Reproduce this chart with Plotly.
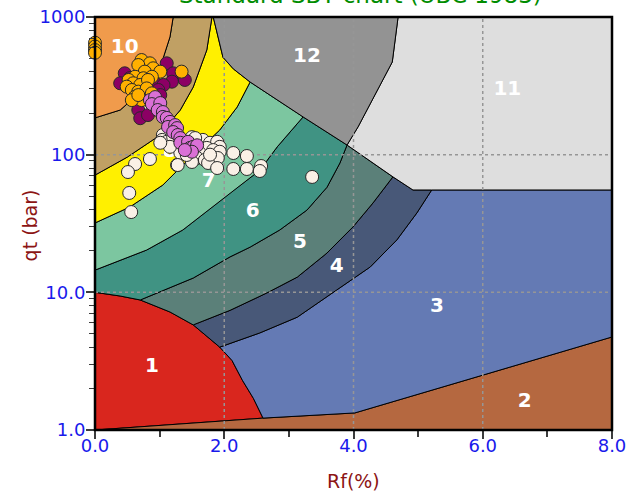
import plotly.graph_objects as go

# ---------------- zone boundaries (Rf %, qt bar) ----------------
B1 = [(0.0, 10.0), (0.39, 9.4), (0.70, 8.8), (1.16, 7.2), (1.52, 5.8),
      (1.93, 4.0), (2.12, 3.2), (2.28, 2.3), (2.45, 1.7), (2.60, 1.22)]
B2 = [(0.0, 1.0), (2.60, 1.22), (4.02, 1.33), (8.0, 4.74)]
B43 = [(1.93, 4.0), (2.55, 5.07), (3.13, 6.6), (3.74, 10.4), (4.26, 15.3),
       (4.67, 24.0), (4.98, 37.7), (5.21, 55.4)]
B54 = [(1.52, 5.8), (2.09, 7.4), (2.66, 9.9), (3.13, 12.9), (3.59, 19.3),
       (3.99, 29.8), (4.30, 44.5), (4.61, 69.0)]
B65 = [(0.70, 8.8), (1.52, 12.7), (2.09, 18.1), (2.40, 21.3), (2.86, 28.4),
       (3.28, 39.6), (3.59, 58.0), (3.79, 87.0), (3.90, 117.5)]
B76 = [(0.0, 14.5), (0.80, 20.3), (1.36, 28.4), (2.09, 52.7), (2.55, 77.0),
       (2.82, 114.0), (3.22, 188.0)]
B87 = [(0.0, 31.9), (0.54, 41.7), (1.05, 60.2), (1.47, 94.6), (1.93, 151.0),
       (2.20, 222.0), (2.40, 337.0)]
B98 = [(0.0, 71.0), (0.50, 96.0), (0.96, 134.0), (1.32, 211.0), (1.52, 310.0),
       (1.73, 576.0), (1.81, 1000.0)]
B109 = [(0.0, 185.0), (0.39, 211.0), (0.74, 295.0), (1.01, 433.0), (1.16, 716.0),
        (1.21, 1000.0)]
G12 = [(1.83, 1000.0), (1.89, 765.0), (1.98, 510.0), (2.14, 420.0), (2.40, 337.0),
       (3.22, 188.0), (3.90, 117.5)]
W11 = [(3.90, 117.5), (4.07, 159.0), (4.60, 471.0), (4.69, 1000.0)]
B11_bottom = [(3.90, 117.5), (4.61, 69.0), (4.92, 55.4), (5.21, 55.4), (8.0, 55.4)]

zone_colors = {
    1: "rgb(217,38,30)", 2: "rgb(181,104,64)", 3: "rgb(100,122,180)",
    4: "rgb(72,88,120)", 5: "rgb(91,128,121)", 6: "rgb(64,147,131)",
    7: "rgb(124,198,160)", 8: "rgb(255,240,0)", 9: "rgb(192,160,100)",
    10: "rgb(240,155,76)", 11: "rgb(222,222,222)", 12: "rgb(147,147,147)",
}

def rev(seq):
    return list(reversed(seq))

zones = {
    1: [B2[0], B2[1]] + rev(B1),
    2: B2 + [(8.0, 1.0)],
    3: B1[5:] + B2[2:] + [(8.0, 55.4)] + rev(B43),
    4: B1[4:6] + B43 + rev(B11_bottom[:4]) + rev(B54),
    5: B1[2:5] + B54 + [B11_bottom[0]] + rev(B65),
    6: B1[0:3] + B65 + rev(G12[5:7]) + rev(B76),
    7: B76 + rev(G12[4:6]) + rev(B87),
    8: B87 + rev(G12[0:5]) + rev(B98),
    9: B98 + rev(B109),
    10: B109 + [(0.0, 1000.0)],
    11: W11 + [(8.0, 1000.0), (8.0, 55.4)] + rev(B11_bottom),
    12: G12 + W11[1:],
}

zone_labels = ["1", "2", "3", "4", "5", "6", "7", "8", "9", "10", "11", "12"]
label_rf = [0.88, 6.65, 5.29, 3.74, 3.17, 2.44, 1.76, 1.16, 0.80, 0.46, 6.38, 3.28]
label_qt = [2.87, 1.6, 7.8, 15.3, 22.8, 38.3, 63.3, 105, 211, 595, 295, 512]

# ---------------- data points ----------------
white_rf = [0.62, 0.85, 0.51, 1.27, 0.53, 0.56, 2.14, 2.35, 2.14, 2.35, 2.57, 2.55, 3.36,
            1.05, 1.04, 1.11, 1.21, 1.50, 1.67, 1.78, 1.89, 1.93, 1.73, 1.62, 1.83, 1.93,
            1.58, 1.70, 1.90, 1.32, 1.28, 1.75, 1.50, 1.50, 1.42, 1.89, 1.16, 1.01, 1.55,
            1.39, 1.78]
white_qt = [85.5, 93.0, 74.8, 84.1, 52.7, 38.3, 102.8, 97.8, 78.7, 78.7, 82.7, 76.1, 68.9,
            139, 128, 124, 134, 134, 128, 122, 124, 114, 112, 103, 108, 105,
            94.6, 91.5, 94.6, 103, 84.1, 87, 88.5, 108, 99.5, 80, 114, 122, 132,
            117, 100]

purple_rf = [1.11, 1.21, 1.39, 1.19, 0.46, 0.39, 0.93, 1.06, 0.98, 0.67, 0.70, 0.82,
             0.88, 0.77, 0.54, 1.01]
purple_qt = [461, 390, 349, 339, 390, 330, 330, 321, 295, 211, 184, 194,
             236, 285, 360, 271]

orange_rf = [0.0, 0.0, 0.0, 0.0, 0.72, 0.85, 0.67, 0.90, 0.77, 1.01, 1.34, 0.62, 0.75,
             0.88, 0.52, 0.59, 0.70, 0.82, 0.49, 0.57, 0.67, 0.80, 0.62, 0.72, 0.57,
             0.67, 0.88]
orange_qt = [650, 610, 575, 550, 487, 461, 448, 424, 401, 401, 401, 368, 359,
             368, 349, 330, 321, 349, 312, 295, 287, 303, 264, 249, 249,
             271, 279]

orchid_rf = [0.85, 0.93, 0.88, 1.01, 0.97, 1.05, 1.05, 1.11, 1.16, 1.13, 1.24, 1.27,
             1.21, 1.28, 1.32, 1.32, 1.44, 1.47, 1.52, 1.58, 1.50, 1.39]
orchid_qt = [249, 262, 233, 237, 211, 204, 188, 185, 173, 159, 164, 156,
             146, 139, 132, 122, 124, 112, 114, 117, 105, 108]

x_ticks = [0, 2, 4, 6, 8]
x_ticktext = ["0.0", "2.0", "4.0", "6.0", "8.0"]
x_minor = [1, 3, 5, 7]
y_ticks = [1, 10, 100, 1000]
y_ticktext = ["1.0", "10.0", "100", "1000"]
y_minor = [2, 3, 4, 5, 6, 7, 8, 9, 20, 30, 40, 50, 60, 70, 80, 90,
           200, 300, 400, 500, 600, 700, 800, 900]
x_grid = [2, 4, 6]
y_grid = [10, 100]

FONT = "DejaVu Sans"

fig = go.Figure()

for z, pts in zones.items():
    fig.add_trace(go.Scatter(
        x=[p[0] for p in pts] + [pts[0][0]],
        y=[p[1] for p in pts] + [pts[0][1]],
        mode="lines", fill="toself", fillcolor=zone_colors[z],
        line=dict(color="black", width=1), hoverinfo="skip", showlegend=False))

grid_style = dict(color="rgb(150,150,150)", width=1.5, dash="dot")
for gx in x_grid:
    fig.add_trace(go.Scatter(x=[gx, gx], y=[y_ticks[0], y_ticks[-1]], mode="lines",
                             line=grid_style, hoverinfo="skip", showlegend=False))
for gy in y_grid:
    fig.add_trace(go.Scatter(x=[x_ticks[0], x_ticks[-1]], y=[gy, gy], mode="lines",
                             line=grid_style, hoverinfo="skip", showlegend=False))

fig.add_trace(go.Scatter(
    x=label_rf, y=label_qt, mode="text", text=zone_labels,
    textfont=dict(family=FONT, size=20, color="white", weight="bold"),
    hoverinfo="skip", showlegend=False))

def add_points(xs, ys, color):
    fig.add_trace(go.Scatter(
        x=xs, y=ys, mode="markers", cliponaxis=False,
        marker=dict(size=13, color=color, line=dict(color="rgb(40,40,40)", width=1)),
        showlegend=False))

add_points(white_rf, white_qt, "rgb(250,240,230)")
add_points(purple_rf, purple_qt, "rgb(140,0,100)")
add_points(orange_rf, orange_qt, "rgb(255,176,0)")
add_points(orchid_rf, orchid_qt, "rgb(218,112,214)")

tick_font = dict(family=FONT, size=18, color="rgb(25,25,235)")

fig.update_layout(
    width=630, height=496,
    margin=dict(l=95, r=18, t=17, b=66, autoexpand=False),
    paper_bgcolor="white", plot_bgcolor="white",
    xaxis=dict(range=[0, 8], tickvals=x_ticks, ticktext=x_ticktext, showgrid=False,
               zeroline=False, ticks="outside", ticklen=8, tickcolor="rgb(60,60,60)",
               tickwidth=1.5, tickfont=tick_font, automargin=False,
               ticklabelstandoff=-9,
               minor=dict(tickvals=x_minor, ticks="outside", ticklen=6,
                          tickcolor="rgb(60,60,60)", tickwidth=1.5)),
    yaxis=dict(type="log", range=[0, 3], tickvals=y_ticks, ticktext=y_ticktext,
               showgrid=False, zeroline=False, ticks="outside", ticklen=8,
               tickcolor="rgb(60,60,60)", tickwidth=1.5, tickfont=tick_font,
               automargin=False, ticklabelstandoff=-3,
               minor=dict(tickvals=y_minor, ticks="outside", ticklen=5,
                          tickcolor="rgb(60,60,60)", tickwidth=1.2)),
    shapes=[dict(type="rect", xref="paper", yref="paper", x0=0, y0=0, x1=1, y1=1,
                 line=dict(color="black", width=2.5), layer="above")],
    annotations=[
        dict(text="Standard SBT chart (UBC 1983)", xref="paper", yref="paper",
             x=0.513, y=1.0, xanchor="center", yanchor="middle", yshift=22,
             showarrow=False,
             font=dict(family=FONT, size=23, color="rgb(0,140,0)")),
        dict(text="qt (bar)", xref="paper", yref="paper", x=-0.126, y=0.495,
             xanchor="center", yanchor="middle", textangle=-90, showarrow=False,
             font=dict(family=FONT, size=19, color="rgb(140,20,20)")),
        dict(text="Rf(%)", xref="paper", yref="paper", x=0.5, y=-0.1235,
             xanchor="center", yanchor="middle", showarrow=False,
             font=dict(family=FONT, size=19, color="rgb(140,20,20)")),
    ],
)

fig.write_html("out.html", config={"displayModeBar": False},
               post_script="document.body.style.margin='0px';")
